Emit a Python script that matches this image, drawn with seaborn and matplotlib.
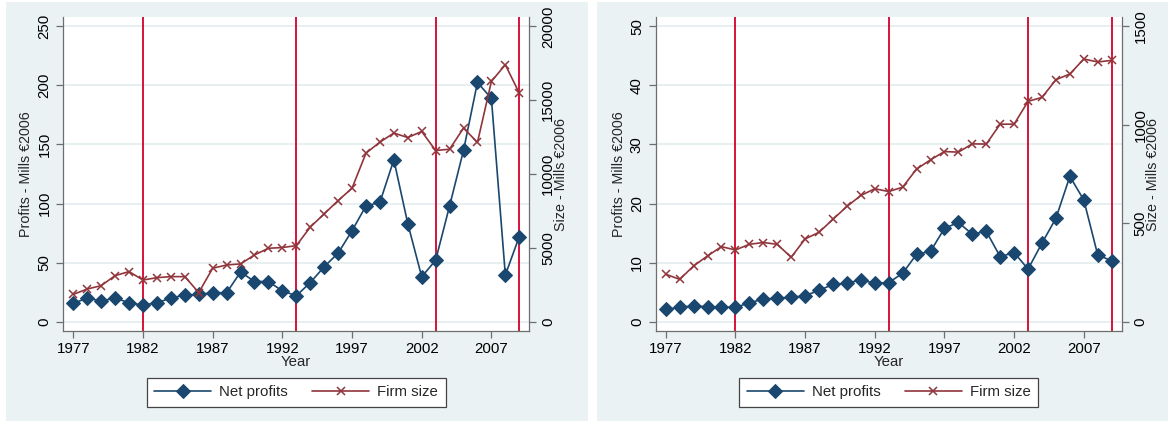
import matplotlib

matplotlib.use("Agg")
import matplotlib.pyplot as plt
import seaborn as sns
from matplotlib.patches import Rectangle

years = list(range(1977, 2010))

# left panel
profits_a = [15.5, 20, 17.5, 20, 16, 14, 16, 20, 22.5, 23, 24.5, 24.5, 42, 34, 34, 26,
             22, 33, 46.5, 58, 77, 98, 101, 137, 83, 38, 52, 98, 145, 202.5, 189, 39.5, 72]
size_a = [1850, 2210, 2440, 3120, 3390, 2820, 2980, 3050, 3050, 1970, 3620, 3840, 3910,
          4520, 4970, 5020, 5150, 6400, 7300, 8200, 9040, 11410, 12160, 12770, 12470,
          12880, 11590, 11680, 13110, 12140, 16270, 17400, 15480]

# right panel
profits_b = [2.1, 2.4, 2.7, 2.5, 2.5, 2.4, 3.2, 3.8, 4.0, 4.1, 4.4, 5.3, 6.3, 6.5, 7.1, 6.5,
             6.6, 8.2, 11.4, 11.9, 15.8, 16.8, 14.8, 15.3, 11.0, 11.7, 8.9, 13.3, 17.5,
             24.6, 20.6, 11.3, 10.3]
size_b = [241, 215, 283, 334, 381, 364, 393, 402, 393, 327, 420, 454, 520, 585, 641, 675,
          661, 683, 775, 822, 864, 861, 903, 902, 1003, 1003, 1119, 1139, 1229, 1258,
          1334, 1319, 1327]

break_years = [1982, 1993, 2003, 2009]
year_ticks = [1977, 1982, 1987, 1992, 1997, 2002, 2007]

NAVY = "#1a476f"
MAROON = "#90353b"
RED = "#d4002a"
BG = "#eaf2f3"
GRID = "#e6eef0"
AXC = "#6e6e6e"

sns.set_style("white")
plt.rcParams["font.family"] = ["Liberation Sans", "DejaVu Sans"]

W, H = 1173, 423
fig = plt.figure(figsize=(W / 100, H / 100), dpi=100)

# panel backgrounds (behind the axes)
for x0, x1 in [(6, 588), (597, 1168)]:
    fig.patches.append(Rectangle((x0 / W, 2 / H), (x1 - x0) / W, (421 - 2) / H,
                                 transform=fig.transFigure, facecolor=BG,
                                 edgecolor="none", zorder=-5))


def draw_panel(left_px, profits, sizes, pmax, smax, pstep, sstep):
    ax = fig.add_axes([left_px / W, (H - 331) / H, 466 / W, 314 / H])
    ax.set_facecolor("white")
    ax2 = ax.twinx()

    pad = 0.0316
    ax.set_ylim(-pad * pmax, pmax * (1 + pad))
    ax2.set_ylim(-pad * smax, smax * (1 + pad))
    ax.set_xlim(1976.28, 2009.72)

    ax.set_yticks(range(0, pmax + 1, pstep))
    ax2.set_yticks(range(0, smax + 1, sstep))
    ax.set_xticks(year_ticks)
    for t in ax.get_yticks():
        ax.axhline(t, color=GRID, lw=1.3, zorder=0)

    for yr in break_years:
        ax.axvline(yr, color=RED, lw=1.3, zorder=1)

    sns.lineplot(x=years, y=profits, ax=ax, color=NAVY, lw=1.2, marker="D",
                 markersize=7, markeredgecolor=NAVY, label="Net profits",
                 legend=False, zorder=3)
    sns.lineplot(x=years, y=sizes, ax=ax2, color=MAROON, lw=1.2, marker="x",
                 markersize=5.5, markeredgewidth=1.1, markeredgecolor=MAROON,
                 label="Firm size", legend=False, zorder=3)

    for a in (ax, ax2):
        a.spines["top"].set_visible(False)
        for s in ("left", "right", "bottom"):
            a.spines[s].set_color(AXC)
            a.spines[s].set_linewidth(0.9)
        a.tick_params(colors=AXC, labelcolor="black", length=5, width=0.9,
                      labelsize=10.8)
    ax.spines["right"].set_visible(False)
    ax2.spines["left"].set_visible(False)
    ax2.spines["bottom"].set_visible(False)
    ax.tick_params(axis="y", left=True, rotation=90)
    ax.tick_params(axis="x", bottom=True, pad=3)
    ax2.tick_params(axis="y", right=True, rotation=90)
    for lab in ax.get_yticklabels() + ax2.get_yticklabels():
        lab.set_verticalalignment("center")

    ax.set_xlabel("Year", fontsize=10.8, labelpad=-1)
    ax.set_ylabel("Profits - Mills €2006", fontsize=10.3, labelpad=3)
    ax2.set_ylabel("Size - Mills €2006", fontsize=10.3, labelpad=-1)

    handles = ax.get_lines()[-1:] + ax2.get_lines()[-1:]
    leg = fig.legend(handles, ["Net profits", "Firm size"], loc="center",
                     bbox_to_anchor=((left_px + 233) / W, (H - 392) / H),
                     ncol=2, frameon=True, fancybox=False, fontsize=10.8,
                     handlelength=3.8, columnspacing=1.6, borderpad=0.5,
                     handletextpad=0.55, framealpha=1)
    leg.get_frame().set_edgecolor("#444444")
    leg.get_frame().set_linewidth(0.9)
    return ax, ax2


draw_panel(63.3, profits_a, size_a, 250, 20000, 50, 5000)
draw_panel(655.7, profits_b, size_b, 50, 1500, 10, 500)

fig.savefig("out.png", dpi=100, facecolor="white")
